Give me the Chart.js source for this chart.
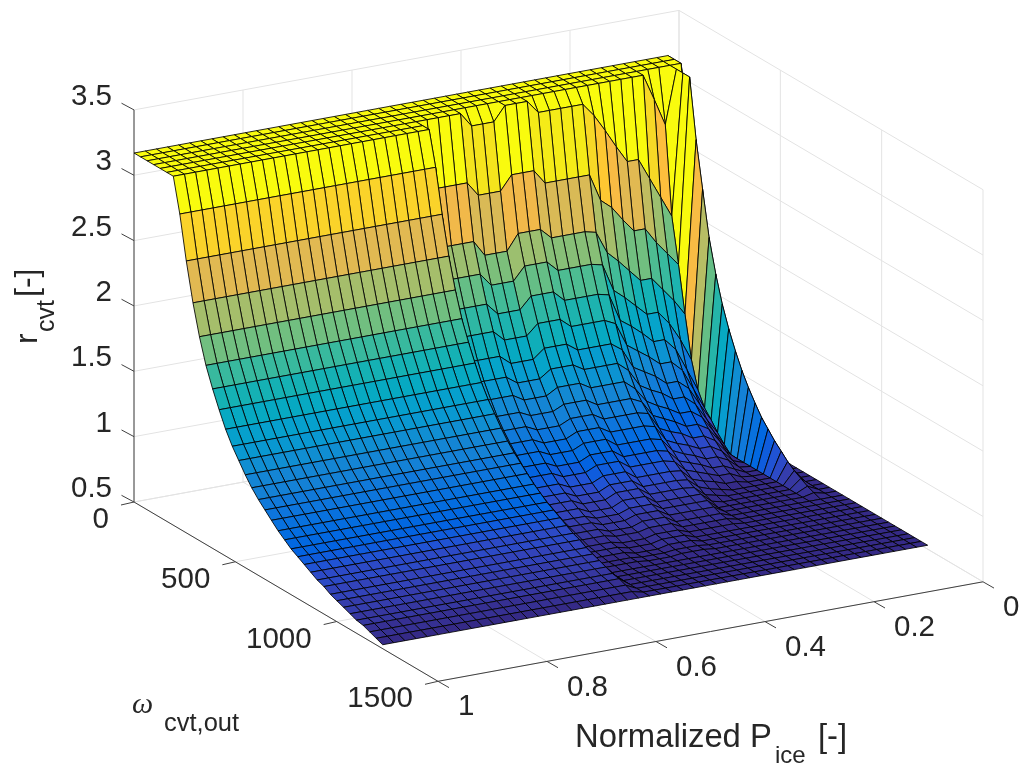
<!DOCTYPE html>
<html>
<head>
<meta charset="utf-8">
<title>rcvt surface</title>
<script src="https://cdn.jsdelivr.net/npm/chart.js@4/dist/chart.umd.min.js"></script>
<style>
  html, body { margin: 0; padding: 0; background: #fff; }
  canvas { display: block; }
</style>
</head>
<body>
<canvas id="surfaceChart" width="1025" height="770"></canvas>
<script>
// Axis ticks
const ratioTicks = [0.5, 1, 1.5, 2, 2.5, 3, 3.5];
const ratioTickLabels = ['0.5', '1', '1.5', '2', '2.5', '3', '3.5'];
const omegaTicks = [0, 500, 1000, 1500];
const omegaTickLabels = ['0', '500', '1000', '1500'];
const powerTicks = [1, 0.8, 0.6, 0.4, 0.2, 0];
const powerTickLabels = ['1', '0.8', '0.6', '0.4', '0.2', '0'];

// Surface grid
const omegaGrid = [0, 32, 65, 97, 129, 162, 194, 226, 258, 291, 323, 355, 388, 420, 452, 485, 517, 549, 581, 614, 646, 678, 711, 743, 775, 808, 840, 872, 904, 937, 969, 1001, 1034, 1066, 1098, 1131, 1163, 1195, 1227];
const powerGrid = [1, 0.9796, 0.9592, 0.9388, 0.9184, 0.898, 0.8776, 0.8571, 0.8367, 0.8163, 0.7959, 0.7755, 0.7551, 0.7347, 0.7143, 0.6939, 0.6735, 0.6531, 0.6327, 0.6122, 0.5918, 0.5714, 0.551, 0.5306, 0.5102, 0.4898, 0.4694, 0.449, 0.4286, 0.4082, 0.3878, 0.3673, 0.3469, 0.3265, 0.3061, 0.2857, 0.2653, 0.2449, 0.2245, 0.2041, 0.1837, 0.1633, 0.1429, 0.1224, 0.102, 0.0816, 0.0612, 0.0408, 0.0204, 0];

// r_cvt along omegaGrid, one list per kind of column
const highPower = [3.17, 3.17, 3.17, 3.17, 3.17, 3.17, 3.17, 2.91, 2.58, 2.29, 2.06, 1.87, 1.72, 1.59, 1.47, 1.37, 1.29, 1.21, 1.14, 1.08, 1.03, 0.98, 0.93, 0.89, 0.85, 0.82, 0.79, 0.76, 0.73, 0.71, 0.68, 0.66, 0.64, 0.62, 0.60, 0.59, 0.57, 0.55, 0.53];
const midPeak = [3.17, 3.17, 3.17, 3.17, 3.17, 2.67, 2.25, 2.03, 1.83, 1.65, 1.49, 1.36, 1.25, 1.15, 1.07, 1.00, 0.94, 0.88, 0.83, 0.78, 0.74, 0.71, 0.68, 0.65, 0.63, 0.61, 0.59, 0.57, 0.56, 0.55, 0.54, 0.54, 0.53, 0.53, 0.53, 0.53, 0.53, 0.53, 0.53];
const midDip = [3.17, 3.17, 3.17, 3.17, 3.06, 2.56, 2.13, 1.93, 1.74, 1.57, 1.42, 1.30, 1.20, 1.11, 1.03, 0.96, 0.90, 0.84, 0.79, 0.74, 0.70, 0.67, 0.64, 0.62, 0.60, 0.58, 0.57, 0.55, 0.54, 0.53, 0.53, 0.53, 0.53, 0.53, 0.53, 0.53, 0.53, 0.53, 0.53];
const midLow = [3.17, 3.17, 3.17, 3.17, 3.07, 2.56, 2.17, 1.95, 1.75, 1.58, 1.43, 1.31, 1.20, 1.10, 1.02, 0.95, 0.88, 0.82, 0.77, 0.72, 0.68, 0.65, 0.62, 0.60, 0.58, 0.56, 0.55, 0.54, 0.53, 0.53, 0.53, 0.53, 0.53, 0.53, 0.53, 0.53, 0.53, 0.53, 0.53];
const midEdge = [3.17, 3.17, 3.17, 3.17, 3.07, 2.56, 2.15, 1.93, 1.73, 1.54, 1.37, 1.24, 1.13, 1.06, 1.00, 0.93, 0.86, 0.80, 0.75, 0.71, 0.67, 0.64, 0.62, 0.60, 0.58, 0.56, 0.55, 0.54, 0.53, 0.53, 0.53, 0.53, 0.53, 0.53, 0.53, 0.53, 0.53, 0.53, 0.53];
const low40 = [3.17, 3.17, 3.17, 3.17, 2.97, 2.35, 1.98, 1.72, 1.52, 1.36, 1.22, 1.11, 1.02, 0.94, 0.87, 0.81, 0.76, 0.71, 0.67, 0.63, 0.60, 0.57, 0.55, 0.53, 0.53, 0.53, 0.53, 0.53, 0.53, 0.53, 0.53, 0.53, 0.53, 0.53, 0.53, 0.53, 0.53, 0.53, 0.53];
const low41 = [3.17, 3.17, 3.17, 3.17, 2.84, 2.28, 1.90, 1.65, 1.46, 1.30, 1.17, 1.06, 0.97, 0.90, 0.83, 0.77, 0.72, 0.68, 0.64, 0.60, 0.57, 0.55, 0.53, 0.53, 0.53, 0.53, 0.53, 0.53, 0.53, 0.53, 0.53, 0.53, 0.53, 0.53, 0.53, 0.53, 0.53, 0.53, 0.53];
const low42 = [3.17, 3.17, 3.17, 3.17, 2.70, 2.17, 1.81, 1.57, 1.39, 1.24, 1.12, 1.02, 0.93, 0.86, 0.80, 0.74, 0.69, 0.65, 0.61, 0.58, 0.55, 0.53, 0.53, 0.53, 0.53, 0.53, 0.53, 0.53, 0.53, 0.53, 0.53, 0.53, 0.53, 0.53, 0.53, 0.53, 0.53, 0.53, 0.53];
const low43 = [3.17, 3.17, 3.17, 3.17, 2.57, 2.07, 1.72, 1.49, 1.31, 1.17, 1.05, 0.96, 0.88, 0.81, 0.75, 0.70, 0.65, 0.61, 0.58, 0.55, 0.53, 0.53, 0.53, 0.53, 0.53, 0.53, 0.53, 0.53, 0.53, 0.53, 0.53, 0.53, 0.53, 0.53, 0.53, 0.53, 0.53, 0.53, 0.53];
const low45 = [3.17, 3.17, 3.17, 3.17, 2.41, 1.95, 1.62, 1.39, 1.22, 1.09, 0.98, 0.89, 0.82, 0.76, 0.70, 0.65, 0.61, 0.57, 0.54, 0.53, 0.53, 0.53, 0.53, 0.53, 0.53, 0.53, 0.53, 0.53, 0.53, 0.53, 0.53, 0.53, 0.53, 0.53, 0.53, 0.53, 0.53, 0.53, 0.53];
const low46 = [3.17, 3.17, 3.17, 2.97, 2.25, 1.85, 1.52, 1.25, 1.05, 0.93, 0.84, 0.76, 0.70, 0.65, 0.60, 0.56, 0.54, 0.53, 0.53, 0.53, 0.53, 0.53, 0.53, 0.53, 0.53, 0.53, 0.53, 0.53, 0.53, 0.53, 0.53, 0.53, 0.53, 0.53, 0.53, 0.53, 0.53, 0.53, 0.53];
const low47 = [3.17, 3.17, 3.17, 2.76, 2.09, 1.75, 1.40, 1.08, 0.88, 0.77, 0.71, 0.64, 0.58, 0.53, 0.53, 0.53, 0.53, 0.53, 0.53, 0.53, 0.53, 0.53, 0.53, 0.53, 0.53, 0.53, 0.53, 0.53, 0.53, 0.53, 0.53, 0.53, 0.53, 0.53, 0.53, 0.53, 0.53, 0.53, 0.53];
const fin48 = [3.17, 3.17, 3.17, 3.17, 3.17, 3.17, 2.72, 2.37, 2.03, 1.78, 1.58, 1.42, 1.28, 1.16, 1.06, 0.97, 0.89, 0.83, 0.77, 0.72, 0.67, 0.63, 0.60, 0.57, 0.55, 0.53, 0.53, 0.53, 0.53, 0.53, 0.53, 0.53, 0.53, 0.53, 0.53, 0.53, 0.53, 0.53, 0.53];
const back49 = [3.17, 3.17, 3.17, 2.60, 2.00, 1.60, 1.30, 1.10, 0.95, 0.83, 0.74, 0.67, 0.61, 0.57, 0.54, 0.53, 0.53, 0.53, 0.53, 0.53, 0.53, 0.53, 0.53, 0.53, 0.53, 0.53, 0.53, 0.53, 0.53, 0.53, 0.53, 0.53, 0.53, 0.53, 0.53, 0.53, 0.53, 0.53, 0.53];
const back50 = [2.90, 2.85, 2.50, 2.10, 1.70, 1.40, 1.20, 1.05, 0.92, 0.82, 0.74, 0.67, 0.62, 0.58, 0.55, 0.53, 0.53, 0.53, 0.53, 0.53, 0.53, 0.53, 0.53, 0.53, 0.53, 0.53, 0.53, 0.53, 0.53, 0.53, 0.53, 0.53, 0.53, 0.53, 0.53, 0.53, 0.53, 0.53, 0.53];

// Which list each powerGrid column uses
const rCvt = [
    highPower, highPower, highPower, highPower, highPower, highPower, highPower, highPower,
    highPower, highPower, highPower, highPower, highPower, highPower, highPower, highPower,
    highPower, highPower, highPower, highPower, highPower, highPower, highPower, highPower,
    midPeak, midPeak, midPeak, midPeak, midDip, midDip, midDip, midPeak, midPeak, midPeak,
    midLow, midLow, midLow, midLow, midEdge,
    low40, low41, low42, low43, low43, low45, low46, low47, fin48, back49, back50
];

// MATLAB parula
const parula = [
    [0.2081,0.1663,0.5292],[0.2116,0.1898,0.5777],[0.2123,0.2138,0.6270],[0.2081,0.2386,0.6771],
    [0.1959,0.2645,0.7279],[0.1707,0.2919,0.7792],[0.1253,0.3242,0.8303],[0.0591,0.3598,0.8683],
    [0.0117,0.3875,0.8820],[0.0060,0.4086,0.8828],[0.0165,0.4266,0.8786],[0.0329,0.4430,0.8720],
    [0.0498,0.4586,0.8641],[0.0629,0.4737,0.8554],[0.0723,0.4887,0.8467],[0.0779,0.5040,0.8384],
    [0.0793,0.5200,0.8312],[0.0749,0.5375,0.8263],[0.0641,0.5570,0.8240],[0.0488,0.5772,0.8228],
    [0.0343,0.5966,0.8199],[0.0265,0.6137,0.8135],[0.0239,0.6287,0.8038],[0.0231,0.6418,0.7913],
    [0.0228,0.6535,0.7768],[0.0267,0.6642,0.7607],[0.0384,0.6743,0.7436],[0.0590,0.6838,0.7254],
    [0.0843,0.6928,0.7062],[0.1133,0.7015,0.6859],[0.1453,0.7098,0.6646],[0.1801,0.7177,0.6424],
    [0.2178,0.7250,0.6193],[0.2586,0.7317,0.5954],[0.3022,0.7376,0.5712],[0.3482,0.7424,0.5473],
    [0.3953,0.7459,0.5244],[0.4420,0.7481,0.5033],[0.4871,0.7491,0.4840],[0.5300,0.7491,0.4661],
    [0.5709,0.7485,0.4494],[0.6099,0.7473,0.4337],[0.6473,0.7456,0.4188],[0.6834,0.7435,0.4044],
    [0.7184,0.7411,0.3905],[0.7525,0.7384,0.3768],[0.7858,0.7356,0.3633],[0.8185,0.7327,0.3498],
    [0.8507,0.7299,0.3360],[0.8824,0.7274,0.3217],[0.9139,0.7258,0.3063],[0.9450,0.7261,0.2886],
    [0.9739,0.7314,0.2666],[0.9938,0.7455,0.2403],[0.9990,0.7653,0.2164],[0.9955,0.7861,0.1967],
    [0.9880,0.8066,0.1794],[0.9789,0.8271,0.1633],[0.9697,0.8481,0.1475],[0.9626,0.8705,0.1309],
    [0.9589,0.8949,0.1132],[0.9598,0.9218,0.0948],[0.9661,0.9514,0.0755],[0.9763,0.9831,0.0538]
];
const colorMin = 0.53;
const colorMax = 3.17;

function surfaceColor(r) {
    const idx = Math.round((r - colorMin) / (colorMax - colorMin) * 63);
    const c = parula[Math.max(0, Math.min(63, idx))];
    return `rgb(${Math.round(c[0] * 255)},${Math.round(c[1] * 255)},${Math.round(c[2] * 255)})`;
}

// Fixed 3D view of the axes box, gives page coordinates for the hidden x/y scales
function project(omega, power, ratio) {
    return {
        x: 134 + omega / 1500 * 304 + (1 - power) * 545,
        y: 502 + omega / 1500 * 179.3 - (1 - power) * 99.5 - (ratio - 0.5) * 130.7
    };
}

function lineSet(points, color, width) {
    return {
        data: points,
        showLine: true,
        fill: false,
        borderColor: color,
        borderWidth: width,
        pointRadius: 0,
        tension: 0,
        clip: false
    };
}

// Axis lines, ticks and the light grid on the walls and floor
function buildFrame() {
    const grid = '#e3e3e3';
    const axis = '#404040';
    const sets = [];
    const push = (a, b, color) => sets.push(lineSet([a, b], color, 1));

    ratioTicks.forEach(r => {
        push(project(0, 1, r), project(0, 0, r), grid);
        push(project(0, 0, r), project(1500, 0, r), grid);
    });
    powerTicks.forEach(p => {
        push(project(0, p, 0.5), project(0, p, 3.5), grid);
        push(project(0, p, 0.5), project(1500, p, 0.5), grid);
    });
    omegaTicks.forEach(w => {
        push(project(w, 0, 0.5), project(w, 0, 3.5), grid);
        push(project(w, 1, 0.5), project(w, 0, 0.5), grid);
    });

    // dataset 0 is painted last, so the axes go in front of the grid list
    const axes = [];
    const pushAxis = (a, b) => axes.push(lineSet([a, b], axis, 1));
    pushAxis(project(0, 1, 0.5), project(0, 1, 3.5));
    pushAxis(project(0, 1, 0.5), project(1500, 1, 0.5));
    pushAxis(project(1500, 1, 0.5), project(1500, 0, 0.5));
    ratioTicks.forEach(r => {
        const p = project(0, 1, r);
        pushAxis(p, { x: p.x - 12.5, y: p.y - 6.7 });
    });
    omegaTicks.forEach(w => {
        const p = project(w, 1, 0.5);
        pushAxis(p, { x: p.x - 13, y: p.y + 3 });
    });
    powerTicks.forEach(v => {
        const p = project(1500, v, 0.5);
        pushAxis(p, { x: p.x + 11, y: p.y + 6.3 });
    });
    return axes.concat(sets);
}

// One closed polygon per cell, near cells first because dataset 0 is painted last
function buildSurface() {
    const sets = [];
    for (let j = 0; j < powerGrid.length - 1; j++) {
        for (let i = omegaGrid.length - 2; i >= 0; i--) {
            const corners = [
                project(omegaGrid[i], powerGrid[j], rCvt[j][i]),
                project(omegaGrid[i + 1], powerGrid[j], rCvt[j][i + 1]),
                project(omegaGrid[i + 1], powerGrid[j + 1], rCvt[j + 1][i + 1]),
                project(omegaGrid[i], powerGrid[j + 1], rCvt[j + 1][i])
            ];
            corners.push(corners[0]);
            sets.push({
                data: corners,
                showLine: true,
                fill: 'shape',
                backgroundColor: surfaceColor(rCvt[j + 1][i]),
                borderColor: 'rgba(0,0,0,0.85)',
                borderWidth: 1,
                pointRadius: 0,
                tension: 0,
                clip: false
            });
        }
    }
    return sets;
}

// Tick labels and axis titles
const labelPlugin = {
    id: 'labelPlugin',
    afterDatasetsDraw(chart) {
        const ctx = chart.ctx;
        ctx.save();
        ctx.fillStyle = '#262626';
        ctx.textBaseline = 'middle';
        ctx.font = '29.5px "Liberation Sans"';

        ctx.textAlign = 'right';
        ratioTicks.forEach((r, k) => {
            const p = project(0, 1, r);
            ctx.fillText(ratioTickLabels[k], 112, p.y - 13);
        });
        omegaTicks.forEach((w, k) => {
            const p = project(w, 1, 0.5);
            ctx.fillText(omegaTickLabels[k], p.x - 25, p.y + 18);
        });
        ctx.textAlign = 'left';
        powerTicks.forEach((v, k) => {
            const p = project(1500, v, 0.5);
            ctx.fillText(powerTickLabels[k], p.x + 20, p.y + 26);
        });

        // x title
        ctx.textBaseline = 'alphabetic';
        ctx.font = '32.8px "Liberation Sans"';
        ctx.fillText('Normalized P', 575, 747);
        ctx.fillText('[-]', 818, 747);
        ctx.font = '24px "Liberation Sans"';
        ctx.fillText('ice', 775, 763);

        // y title
        ctx.font = 'italic 30px "Liberation Serif"';
        ctx.fillText('\u03c9', 132, 713);
        ctx.font = '25.5px "Liberation Sans"';
        ctx.fillText('cvt,out', 164, 731);

        // z title
        ctx.save();
        ctx.translate(37, 344);
        ctx.rotate(-Math.PI / 2);
        ctx.font = '32px "Liberation Sans"';
        ctx.fillText('r', 0, 0);
        ctx.fillText('[-]', 47, 0);
        ctx.font = '25px "Liberation Sans"';
        ctx.fillText('cvt', 12, 17);
        ctx.restore();

        ctx.restore();
    }
};

document.addEventListener('DOMContentLoaded', function() {
    const ctx = document.getElementById('surfaceChart');
    new Chart(ctx, {
        type: 'scatter',
        data: { datasets: buildSurface().concat(buildFrame()) },
        options: {
            responsive: false,
            animation: false,
            events: [],
            layout: { padding: 0 },
            plugins: {
                legend: { display: false },
                tooltip: { enabled: false }
            },
            scales: {
                x: { type: 'linear', min: 0, max: 1025, display: false },
                y: { type: 'linear', min: 0, max: 770, reverse: true, display: false }
            }
        },
        plugins: [labelPlugin]
    });
});
</script>
</body>
</html>
